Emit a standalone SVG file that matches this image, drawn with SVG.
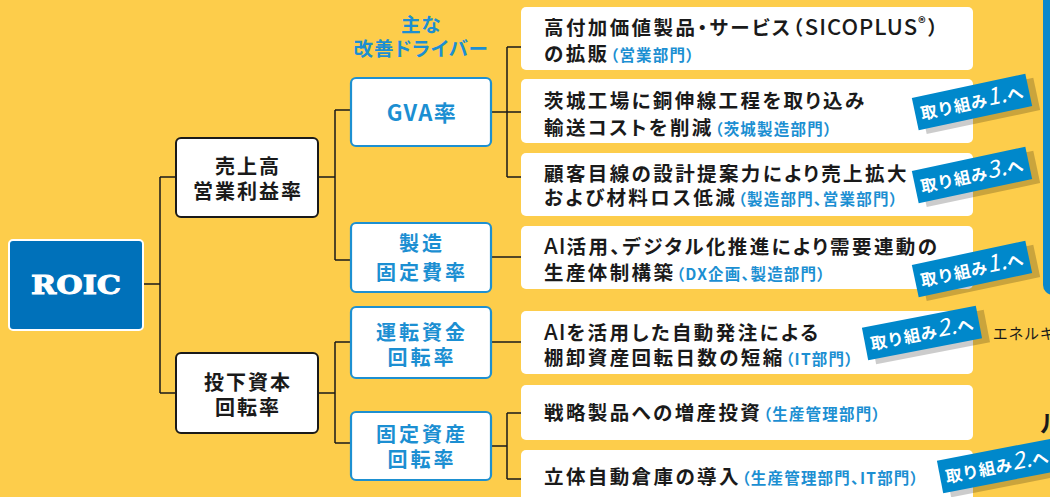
<svg xmlns="http://www.w3.org/2000/svg" width="1050" height="497" viewBox="0 0 1050 497">
<defs>
<style>
.jp{font-family:'Noto Sans CJK JP','Noto Sans',sans-serif;font-feature-settings:"palt";}
.main{font-size:19.5px;font-weight:700;fill:#1a1a1a;letter-spacing:2.4px;}
.dept{font-size:15.5px;font-weight:700;fill:#1C8FD2;letter-spacing:1.2px;}
.lat{font-size:22px;font-weight:500;letter-spacing:1px;}
.lnode{font-size:20px;font-weight:700;fill:#1a1a1a;letter-spacing:2px;text-anchor:middle;}
.bnode{font-size:20px;font-weight:700;fill:#1C8FD2;letter-spacing:3px;text-anchor:middle;}
.bbox{fill:#fff;stroke:#1D90D1;stroke-width:2.2;}
.kbox{fill:#fff;stroke:#1a1a1a;stroke-width:2;}
.wbox{fill:#fff;}
.conn{fill:none;stroke:#1a1a1a;stroke-width:1.5;}
.tag{fill:#0088CB;}
.tsh{fill:#000;fill-opacity:0.2;}
.ttx{font-family:'Noto Sans CJK JP',sans-serif;fill:#fff;font-weight:700;font-size:16.5px;text-anchor:middle;letter-spacing:0.5px;}
.tnum{font-size:23px;font-style:italic;font-weight:400;}
</style>
</defs>
<rect width="1050" height="497" fill="#FDCD4B"/>
<rect x="1043" y="-10" width="30" height="305" rx="10" fill="#0A88CC"/>
<text class="jp" x="993" y="339" font-size="15" fill="#1a1a1a" letter-spacing="1.5">エネルキ</text>
<text class="jp" x="1040" y="432" font-size="24" font-weight="700" fill="#1a1a1a">ル</text>

<g id="connectors">
<path class="conn" d="M143,284H160M160,177V393M160,177H176M160,393H176"/>
<path class="conn" d="M318,177H335M335,110V260M335,110H351M335,260H351"/>
<path class="conn" d="M318,393H335M335,342V443M335,342H351M335,443H351"/>
<path class="conn" d="M491,112H507M507,47V177M507,47H521M507,112H521M507,177H521"/>
<path class="conn" d="M491,257H521"/>
<path class="conn" d="M491,342H521"/>
<path class="conn" d="M491,446H507M507,413V479M507,413H521M507,479H521"/>
</g>

<g id="roic">
<rect x="9" y="240" width="134" height="90" rx="4" fill="#0071BA" stroke="#fff" stroke-width="2"/>
<text x="76" y="294" font-family="'DejaVu Serif',serif" font-weight="700" font-size="26" fill="#fff" stroke="#fff" stroke-width="1" text-anchor="middle" textLength="90" lengthAdjust="spacingAndGlyphs">ROIC</text>
</g>

<g id="node-uriage">
<rect class="kbox" x="176" y="138" width="142" height="79" rx="5"/>
<text class="jp lnode" x="248" y="173.5">売上高</text>
<text class="jp lnode" x="248" y="198.5">営業利益率</text>
</g>
<g id="node-toka">
<rect class="kbox" x="176" y="353" width="142" height="80" rx="5"/>
<text class="jp lnode" x="248" y="389.5">投下資本</text>
<text class="jp lnode" x="248" y="414.5">回転率</text>
</g>

<g id="driver-label">
<text class="jp bnode" x="421" y="32" style="font-size:19.5px;letter-spacing:0.8px">主な</text>
<text class="jp bnode" x="421" y="55.5" style="font-size:19.5px;letter-spacing:0.8px">改善ドライバー</text>
</g>

<g id="node-gva">
<rect class="bbox" x="351" y="78" width="140" height="68" rx="5"/>
<text class="jp bnode" x="422" y="121" style="font-size:22px;letter-spacing:1.5px">GVA率</text>
</g>
<g id="node-seizo">
<rect class="bbox" x="351" y="223" width="140" height="69" rx="5"/>
<text class="jp bnode" x="422" y="250.5">製造</text>
<text class="jp bnode" x="422" y="279.5">固定費率</text>
</g>
<g id="node-unten">
<rect class="bbox" x="351" y="307" width="140" height="71" rx="5"/>
<text class="jp bnode" x="422" y="339.5">運転資金</text>
<text class="jp bnode" x="422" y="364.5">回転率</text>
</g>
<g id="node-kotei">
<rect class="bbox" x="351" y="412" width="140" height="68" rx="5"/>
<text class="jp bnode" x="422" y="441.5">固定資産</text>
<text class="jp bnode" x="422" y="466.5">回転率</text>
</g>

<g id="item1">
<rect class="wbox" x="521" y="7" width="452" height="63" rx="5"/>
<text class="jp main" x="544" y="34.5">高付加価値製品・サービス（<tspan class="lat">SICOPLUS</tspan><tspan style="font-size:15px" dy="-6">®</tspan><tspan dy="6">）</tspan></text>
<text class="jp main" x="544" y="60.5">の拡販<tspan class="dept" dx="1">（営業部門）</tspan></text>
</g>
<g id="item2">
<rect class="wbox" x="521" y="79" width="452" height="64" rx="5"/>
<text class="jp main" x="544" y="107.5">茨城工場に銅伸線工程を取り込み</text>
<text class="jp main" x="544" y="134.5">輸送コストを削減<tspan class="dept" dx="1">（茨城製造部門）</tspan></text>
</g>
<g id="item3">
<rect class="wbox" x="521" y="153" width="452" height="63" rx="5"/>
<text class="jp main" x="544" y="180.5">顧客目線の設計提案力により売上拡大</text>
<text class="jp main" x="544" y="205">および材料ロス低減<tspan class="dept" dx="1">（製造部門、営業部門）</tspan></text>
</g>
<g id="item4">
<rect class="wbox" x="521" y="226" width="452" height="63" rx="5"/>
<text class="jp main" x="544" y="253.5"><tspan class="lat">AI</tspan>活用、デジタル化推進により需要連動の</text>
<text class="jp main" x="544" y="279.5">生産体制構築<tspan class="dept" dx="1">（DX企画、製造部門）</tspan></text>
</g>
<g id="item5">
<rect class="wbox" x="521" y="311" width="452" height="63" rx="5"/>
<text class="jp main" x="544" y="339.5"><tspan class="lat">AI</tspan>を活用した自動発注による</text>
<text class="jp main" x="544" y="364.5">棚卸資産回転日数の短縮<tspan class="dept" dx="1">（IT部門）</tspan></text>
</g>
<g id="item6">
<rect class="wbox" x="521" y="385" width="452" height="55" rx="5"/>
<text class="jp main" x="544" y="420">戦略製品への増産投資<tspan class="dept" dx="1">（生産管理部門）</tspan></text>
</g>
<g id="item7">
<rect class="wbox" x="521" y="450" width="452" height="60" rx="5"/>
<text class="jp main" x="544" y="483.5">立体自動倉庫の導入<tspan class="dept" dx="1">（生産管理部門、IT部門）</tspan></text>
</g>

<g id="tag1" transform="translate(972,102) rotate(-12)">
<rect class="tsh" x="-51" y="-11" width="116" height="33"/>
<rect class="tag" x="-58" y="-16.5" width="116" height="33"/>
<text class="ttx" x="0" y="7">取り組み<tspan class="tnum">1.</tspan>へ</text>
</g>
<g id="tag2" transform="translate(972,175) rotate(-12)">
<rect class="tsh" x="-51" y="-11" width="116" height="33"/>
<rect class="tag" x="-58" y="-16.5" width="116" height="33"/>
<text class="ttx" x="0" y="7">取り組み<tspan class="tnum">3.</tspan>へ</text>
</g>
<g id="tag3" transform="translate(972,269) rotate(-12)">
<rect class="tsh" x="-51" y="-11" width="116" height="33"/>
<rect class="tag" x="-58" y="-16.5" width="116" height="33"/>
<text class="ttx" x="0" y="7">取り組み<tspan class="tnum">1.</tspan>へ</text>
</g>
<g id="tag4" transform="translate(922,333) rotate(-11)">
<rect class="tsh" x="-51" y="-11" width="116" height="33"/>
<rect class="tag" x="-58" y="-16.5" width="116" height="33"/>
<text class="ttx" x="0" y="7">取り組み<tspan class="tnum">2.</tspan>へ</text>
</g>
<g id="tag5" transform="translate(997,466) rotate(-11)">
<rect class="tsh" x="-51" y="-11" width="116" height="33"/>
<rect class="tag" x="-58" y="-16.5" width="116" height="33"/>
<text class="ttx" x="0" y="7">取り組み<tspan class="tnum">2.</tspan>へ</text>
</g>
</svg>
